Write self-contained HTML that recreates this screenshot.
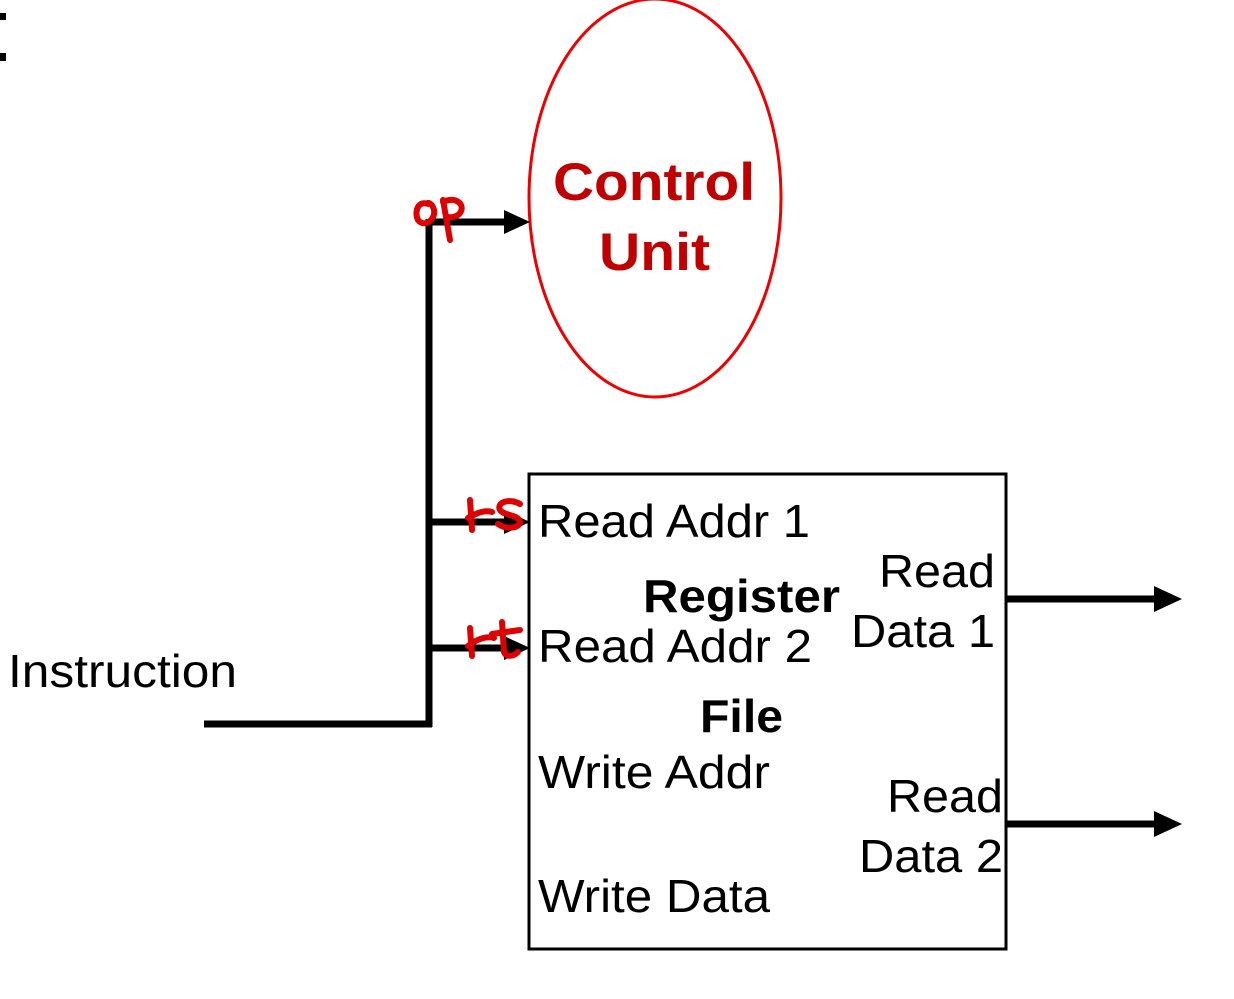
<!DOCTYPE html>
<html><head><style>body{margin:0;background:#fff}svg{display:block}</style></head><body>
<svg width="1234" height="999" viewBox="0 0 1234 999" xmlns="http://www.w3.org/2000/svg" font-family="Liberation Sans, Arial, sans-serif">
<rect x="0" y="13" width="6" height="7" fill="#000"/>
<rect x="0" y="53" width="6" height="8" fill="#000"/>
<ellipse cx="655" cy="198" rx="126" ry="199" fill="none" stroke="#e00" stroke-width="3"/>
<text x="553" y="200" font-size="53" font-weight="bold" fill="#c00000" textLength="202" lengthAdjust="spacingAndGlyphs">Control</text>
<text x="599" y="270" font-size="53" font-weight="bold" fill="#c00000" textLength="111" lengthAdjust="spacingAndGlyphs">Unit</text>
<g stroke="#000" stroke-width="7" fill="none">
<line x1="429" y1="219" x2="429" y2="727"/>
<line x1="204" y1="724" x2="432" y2="724"/>
<line x1="429" y1="222" x2="510" y2="222"/>
<line x1="429" y1="522" x2="510" y2="522"/>
<line x1="429" y1="648" x2="510" y2="648"/>
<line x1="1006" y1="599" x2="1158" y2="599"/>
<line x1="1006" y1="824" x2="1158" y2="824"/>
</g>
<g fill="#000">
<polygon points="504,210 530,222 504,234"/>
<polygon points="504,510 530,522 504,534"/>
<polygon points="504,636 530,648 504,660"/>
<polygon points="1154,586 1182,599 1154,612"/>
<polygon points="1154,811 1182,824 1154,837"/>
</g>
<rect x="529" y="474" width="477" height="475" fill="none" stroke="#000" stroke-width="3"/>
<g font-size="46" fill="#000" lengthAdjust="spacingAndGlyphs">
<text x="538" y="537" textLength="272" lengthAdjust="spacingAndGlyphs">Read Addr 1</text>
<text x="538" y="662" textLength="274" lengthAdjust="spacingAndGlyphs">Read Addr 2</text>
<text x="538" y="788" textLength="232" lengthAdjust="spacingAndGlyphs">Write Addr</text>
<text x="538" y="912" textLength="232" lengthAdjust="spacingAndGlyphs">Write Data</text>
<text x="879" y="587" textLength="116" lengthAdjust="spacingAndGlyphs">Read</text>
<text x="851" y="647" textLength="144" lengthAdjust="spacingAndGlyphs">Data 1</text>
<text x="887" y="812" textLength="116" lengthAdjust="spacingAndGlyphs">Read</text>
<text x="859" y="872" textLength="144" lengthAdjust="spacingAndGlyphs">Data 2</text>
<text x="8" y="687" textLength="229" lengthAdjust="spacingAndGlyphs">Instruction</text>
<text x="643" y="612" font-weight="bold" textLength="197" lengthAdjust="spacingAndGlyphs">Register</text>
<text x="700" y="732" font-weight="bold" textLength="83" lengthAdjust="spacingAndGlyphs">File</text>
</g>
<g stroke="#d00" stroke-width="6" fill="none" stroke-linecap="round" stroke-linejoin="round">
<path d="M428,204 C418,200 414,212 418,220 C424,228 436,220 434,210 C432,202 426,202 428,204"/>
<path d="M443,200 L450,240"/>
<path d="M443,202 C455,196 466,204 460,213 C456,218 448,218 446,216"/>
<path d="M470,500 L472,530 M468,518 C478,512 486,510 492,512"/>
<path d="M520,504 C510,498 496,502 500,510 C504,516 518,514 520,522 C520,528 506,530 498,524"/>
<path d="M470,628 L472,656 M468,646 C478,638 488,636 494,638"/>
<path d="M502,622 L504,652 C506,658 514,656 518,652 M492,634 L520,630"/>
</g>
</svg>
</body></html>
